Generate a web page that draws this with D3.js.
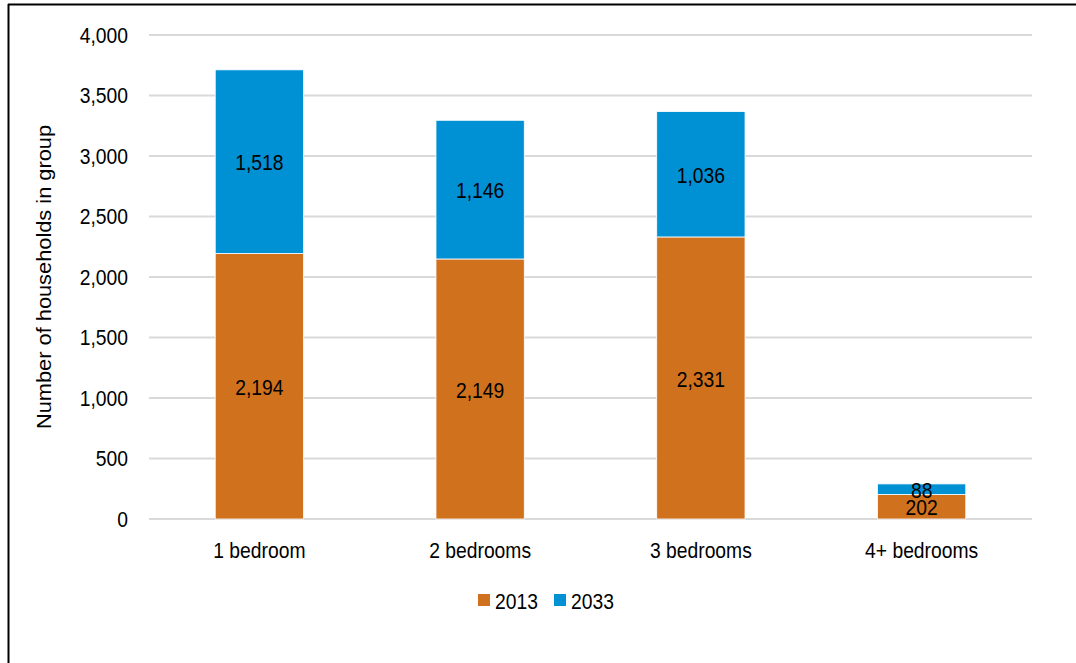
<!DOCTYPE html>
<html><head><meta charset="utf-8">
<script src="https://cdn.jsdelivr.net/npm/d3@7"></script>
<style>html,body{margin:0;padding:0;background:#fff;}svg{display:block;font-family:"Liberation Sans",Arial,sans-serif;}</style>
</head><body>
<svg id="c" width="1076" height="663"></svg>
<script>
const categories = ["1 bedroom", "2 bedrooms", "3 bedrooms", "4+ bedrooms"];
const seriesNames = ["2013", "2033"];
const values2013 = [2194, 2149, 2331, 202];
const values2033 = [1518, 1146, 1036, 88];
const yTicks = [0, 500, 1000, 1500, 2000, 2500, 3000, 3500, 4000];
const colors = ["#D0711E", "#0091D5"];

const FS = 19.3, SY = 1.13;
const svg = d3.select("#c");
// frame
svg.append("line").attr("x1",8.5).attr("x2",8.5).attr("y1",4).attr("y2",663).attr("stroke","#000").attr("stroke-width",2);
svg.append("line").attr("x1",8).attr("x2",1076).attr("y1",4.5).attr("y2",4.5).attr("stroke","#000").attr("stroke-width",2);

const x = d3.scaleBand().domain(categories).range([149, 1032]).paddingInner(0.6).paddingOuter(0.3);
const y = d3.scaleLinear().domain([0, 4000]).range([519, 35]);

// grid
svg.append("g").selectAll("line").data(yTicks).join("line")
  .attr("x1",149).attr("x2",1032).attr("y1",d=>y(d)).attr("y2",d=>y(d))
  .attr("stroke","#d9d9d9").attr("stroke-width",2);

// stretched text helper
function stext(parent, tx, ty, str, anchor) {
  return parent.append("text")
    .attr("transform", `translate(${tx},${ty}) scale(1,${SY})`)
    .attr("text-anchor", anchor || "middle").attr("dy","0.35em")
    .attr("font-size", FS).attr("fill","#000").text(str);
}

const fmt = d3.format(",");
const yAxis = svg.append("g");
yTicks.forEach(t => stext(yAxis, 128, y(t), fmt(t), "end"));

const xAxis = svg.append("g");
categories.forEach(c => stext(xAxis, x(c) + x.bandwidth()/2, 550, c, "middle"));

const data = categories.map((c,i)=>({cat:c, "2013":values2013[i], "2033":values2033[i]}));
const stacked = d3.stack().keys(seriesNames)(data);

stacked.forEach((s,si)=>{
  const g = svg.append("g");
  g.selectAll("rect").data(s).join("rect")
    .attr("x",d=>x(d.data.cat)).attr("width",x.bandwidth())
    .attr("y",d=>y(d[1])).attr("height",d=>y(d[0])-y(d[1]))
    .attr("fill",colors[si]).attr("stroke","#fff").attr("stroke-width",0.8);
  const lg = svg.append("g");
  s.forEach(d => stext(lg, x(d.data.cat)+x.bandwidth()/2, (y(d[0])+y(d[1]))/2 + 1, fmt(d[1]-d[0]), "middle"));
});

// y title
svg.append("text").attr("transform",`translate(44,277) scale(1,${SY}) rotate(-90)`)
  .attr("text-anchor","middle").attr("dy","0.35em").attr("font-size",FS).attr("fill","#000")
  .text("Number of households in group");

// legend
const leg = svg.append("g");
const legX = [478, 554];
seriesNames.forEach((n,i)=>{
  leg.append("rect").attr("x",legX[i]).attr("y",594).attr("width",12).attr("height",12).attr("fill",colors[i]);
  stext(leg, legX[i]+17, 601, n, "start");
});
</script>
</body></html>
